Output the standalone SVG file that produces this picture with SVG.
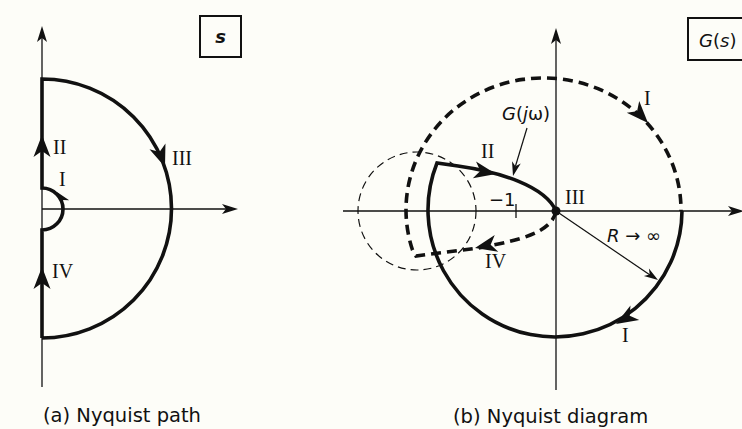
<svg xmlns="http://www.w3.org/2000/svg" xmlns:xlink="http://www.w3.org/1999/xlink" width="742" height="429" viewBox="0 0 742 429">
<style>
.bg{fill:#fdfdf8}
.axis{stroke:#111;stroke-width:1.3;fill:none}
.thick{stroke:#111;stroke-width:3.6;fill:none;stroke-linejoin:miter}
.dash{stroke:#111;stroke-width:3.6;fill:none;stroke-dasharray:10 6}
.thindash{stroke:#111;stroke-width:1.2;fill:none;stroke-dasharray:8 5}
.thin{stroke:#111;stroke-width:1.2;fill:none}
.head{fill:#111}
.rom{font-family:"Liberation Serif",serif;font-size:20px;fill:#111}
.sans{font-family:"DejaVu Sans","Liberation Sans",sans-serif;font-size:18px;fill:#111}
.cap{font-family:"DejaVu Sans","Liberation Sans",sans-serif;font-size:19.5px;fill:#111}
.box{fill:none;stroke:#111;stroke-width:2}
</style>
<defs>
<path id="ah" d="M0,0 L-22,-8.5 L-16,0 L-22,8.5 Z"/>
<path id="ahs" d="M0,0 L-16,-5 L-12,0 L-16,5 Z"/>
<path id="aht" d="M0,0 L-14,-4.5 L-10,0 L-14,4.5 Z"/>
</defs>
<rect class="bg" x="0" y="0" width="742" height="429"/>

<!-- (a) Nyquist path -->
<g id="s-plane">
  <g id="s-axes">
    <line class="axis" x1="42" y1="387" x2="42" y2="36"/>
    <use href="#ahs" class="head" transform="translate(42,26) rotate(-90)"/>
    <line class="axis" x1="42" y1="209" x2="226" y2="209"/>
    <use href="#ahs" class="head" transform="translate(238,209)"/>
  </g>
  <g id="s-box">
    <rect class="box" x="200" y="16" width="41" height="41"/>
    <text class="sans" x="220.5" y="43" text-anchor="middle" font-style="italic" font-size="22" font-weight="bold">s</text>
  </g>
  <g id="s-path">
    <path class="thick" d="M42,338 L42,230 A21,21 0 0 0 42,188 L42,79 A129.5,129.5 0 0 1 42,338"/>
    <use href="#ah" class="head" transform="translate(42,135) rotate(-90)"/>
    <use href="#ah" class="head" transform="translate(42,267) rotate(-90)"/>
    <use href="#ah" class="head" transform="translate(165,167) rotate(70)"/>
    <use href="#aht" class="head" transform="translate(57,192) rotate(-128)"/>
  </g>
  <g id="s-labels">
    <text class="rom" x="53" y="154">II</text>
    <text class="rom" x="172" y="165">III</text>
    <text class="rom" x="59" y="186">I</text>
    <text class="rom" x="52" y="278">IV</text>
  </g>
  <text class="cap" x="43" y="422">(a) Nyquist path</text>
</g>

<!-- (b) Nyquist diagram -->
<g id="g-plane">
  <g id="g-axes">
    <line class="axis" x1="556" y1="390" x2="556" y2="38"/>
    <use href="#ahs" class="head" transform="translate(556,28) rotate(-90)"/>
    <line class="axis" x1="343" y1="211" x2="732" y2="211"/>
    <use href="#ahs" class="head" transform="translate(744,211)"/>
    <line class="axis" x1="516" y1="204" x2="516" y2="218"/>
  </g>
  <g id="g-box">
    <rect class="box" x="688" y="18" width="62" height="42"/>
    <text class="sans" x="699" y="47" font-size="20"><tspan font-style="italic">G</tspan>(<tspan font-style="italic">s</tspan>)</text>
  </g>
  <g id="unit-circle">
    <circle class="thindash" cx="417" cy="211" r="59"/>
  </g>
  <g id="connectors">
    <path class="dash" d="M556,211 C552,232 522,240 478,248 L416,256 L412.5,250 A137.5,132 0 1 1 681,211"/>
    <path class="thick" d="M682,211 A127,127 0 1 1 437,163 L458,166 C500,172 545,186 556,211"/>
    <use href="#ah" class="head" transform="translate(648,123) rotate(47)"/>
    <use href="#ah" class="head" transform="translate(616,324) rotate(149)"/>
    <use href="#ah" class="head" transform="translate(496,174) rotate(11)"/>
    <use href="#ah" class="head" transform="translate(475,248) rotate(168)"/>
    <circle cx="556" cy="211" r="4.5" fill="#111"/>
    <line class="thin" x1="556" y1="211" x2="650" y2="275"/>
    <use href="#aht" class="head" transform="translate(658,280) rotate(34)"/>
    <line class="thin" x1="527" y1="128" x2="515.5" y2="166"/>
    <use href="#aht" class="head" transform="translate(513,176) rotate(104)"/>
  </g>
  <g id="g-labels">
    <text class="rom" x="644" y="105">I</text>
    <text class="rom" x="622" y="342">I</text>
    <text class="rom" x="481" y="158">II</text>
    <text class="rom" x="565" y="204">III</text>
    <text class="rom" x="485" y="268">IV</text>
    <text class="sans" x="489" y="206">−1</text>
    <text class="sans" x="502" y="120"><tspan font-style="italic">G</tspan>(<tspan font-style="italic">j</tspan>ω)</text>
    <text class="sans" x="607" y="242" font-size="19"><tspan font-style="italic">R</tspan> → ∞</text>
  </g>
  <text class="cap" x="453" y="423">(b) Nyquist diagram</text>
</g>
</svg>
